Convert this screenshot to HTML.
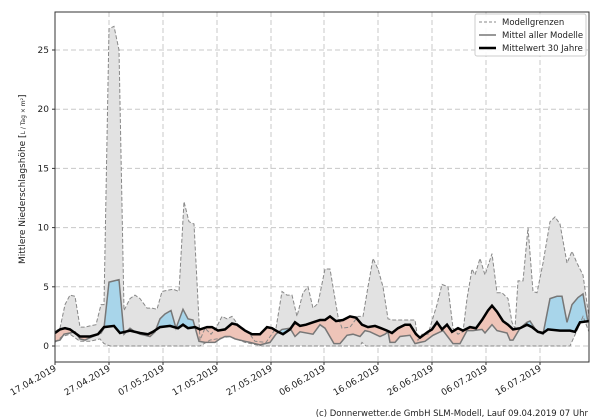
<!DOCTYPE html>
<html><head><meta charset="utf-8"><style>
body{margin:0;background:#fff;}
svg{display:block;font-family:"DejaVu Sans","Liberation Sans",sans-serif;}
</style></head><body>
<svg id="s" width="600" height="420" viewBox="0 0 600 420" xmlns="http://www.w3.org/2000/svg"></svg>
<script>
const Y=v=>346-v*11.84;
const up=[[55,1.2],[60,1.5],[65,3.5],[70,4.3],[75,4.2],[80,1.6],[85,1.6],[90,1.7],[96,1.8],[101,3.5],[104,3.5],[109,26.8],[114,27],[119,25],[124,3],[130,4],[135,4.3],[140,4],[147,3.2],[152,3.2],[157,3.1],[162,4.6],[167,4.7],[173,4.8],[179,4.6],[184,12.2],[189,10.5],[194,10.3],[200,0.5],[205,1.5],[211,1.0],[216,1.5],[222,2.5],[227,2.3],[232,2.5],[238,1.8],[243,1.5],[248,1.2],[255,0.4],[266,0.3],[276,1.5],[282,4.6],[287,4.3],[292,4.3],[297,2.5],[303,4.5],[308,5.0],[313,3.2],[318,3.6],[325,6.5],[330,6.5],[333,5],[338,2.5],[342,1.5],[350,1.6],[358,2.5],[363,2.5],[368,5],[373,7.4],[378,6.5],[383,5],[388,2.3],[393,2.2],[410,2.2],[415,2.2],[418,0.5],[422,1.0],[428,1.0],[437,3.5],[442,5.2],[448,5.0],[453,1.5],[458,1.0],[463,1.2],[467,4],[470,5.5],[472,6.5],[475,6.0],[480,7.4],[485,6],[492,7.8],[497,4.5],[502,4.5],[508,4],[512,2],[515,1.5],[518,5.5],[523,5.5],[528,10],[533,4.6],[537,4.5],[543,7],[550,10.5],[555,10.9],[560,10.3],[567,7],[572,8],[577,7],[583,6],[588,3],[589,2.4]];
const lo=[[55,0.3],[62,0.8],[70,1.0],[80,0.4],[90,0.4],[100,0.6],[104,0.2],[110,0],[200,0],[210,0.5],[230,0.8],[245,0.3],[262,0],[360,0],[362,0.3],[366,0],[560,0],[570,0],[578,1.5],[583,2.5],[589,1.2]];
const mn=[[55,0.4],[60,0.5],[64,1.0],[70,1.1],[75,1.2],[80,0.6],[85,0.5],[90,0.7],[96,0.9],[101,1.1],[104,1.5],[109,5.4],[114,5.5],[119,5.6],[124,1.0],[130,1.5],[135,1.2],[140,1.0],[145,0.9],[150,0.8],[155,1.2],[160,2.3],[165,2.7],[171,3.0],[176,1.5],[183,3.1],[188,2.3],[193,2.2],[199,0.4],[205,0.3],[215,0.3],[220,0.6],[225,0.8],[230,0.8],[235,0.6],[240,0.5],[245,0.4],[250,0.3],[260,0.1],[265,0.2],[270,0.3],[276,1.0],[282,1.4],[290,1.5],[295,0.8],[300,1.2],[313,1.0],[320,1.8],[325,1.5],[334,0.2],[340,0.2],[347,0.9],[353,1.0],[360,0.8],[365,1.3],[370,1.2],[380,0.8],[385,1.0],[388,1.2],[390,0.3],[395,0.3],[400,0.8],[410,0.9],[415,0.2],[420,0.3],[425,0.4],[433,0.9],[443,1.3],[453,0.2],[460,0.2],[467,1.3],[473,1.3],[482,1.4],[485,1.1],[492,1.8],[497,1.3],[507,1.1],[510,0.5],[513,0.5],[520,1.5],[527,2.0],[530,2.1],[537,1.2],[543,1.0],[550,4],[557,4.2],[562,4.2],[567,2.0],[572,3.5],[578,4.1],[583,4.4],[588,2.0]];
const cl=[[55,1.1],[60,1.4],[65,1.5],[70,1.4],[75,1.1],[80,0.8],[90,0.8],[98,1.0],[104,1.6],[114,1.7],[120,1.1],[125,1.2],[130,1.3],[140,1.1],[148,1.0],[153,1.2],[160,1.6],[170,1.7],[178,1.5],[183,1.8],[188,1.5],[195,1.6],[200,1.4],[207,1.6],[212,1.6],[218,1.3],[225,1.4],[232,1.9],[237,1.8],[245,1.3],[252,1.0],[260,1.0],[267,1.6],[272,1.5],[278,1.2],[283,1.0],[290,1.4],[295,2.0],[300,1.7],[306,1.8],[313,2.0],[320,2.2],[325,2.2],[330,2.5],[336,2.1],[343,2.2],[350,2.5],[356,2.4],[362,1.8],[368,1.6],[375,1.7],[381,1.5],[387,1.3],[392,1.1],[398,1.5],[405,1.8],[410,1.8],[416,1.0],[420,0.7],[428,1.2],[432,1.4],[437,2.0],[442,1.4],[447,1.8],[452,1.2],[458,1.5],[463,1.3],[470,1.6],[476,1.5],[482,2.2],[488,3.0],[492,3.4],[497,2.9],[503,2.1],[508,1.8],[513,1.4],[520,1.5],[527,1.8],[532,1.6],[538,1.2],[543,1.1],[548,1.4],[560,1.3],[570,1.3],[575,1.2],[580,2.0],[589,2.1]];
const pts=a=>a.map(p=>p[0]+','+Y(p[1]).toFixed(1)).join(' ');
const rev=a=>a.slice().reverse();
let h='';
h+='<defs><clipPath id="ax"><rect x="55" y="12" width="534" height="350"/></clipPath>';
h+='<clipPath id="belowMean"><polygon points="'+pts(mn)+' 589,400 55,400"/></clipPath>';
h+='<clipPath id="aboveMean"><polygon points="'+pts(mn)+' 589,0 55,0"/></clipPath></defs>';
let g='';
for(let v=0;v<=25;v+=5){g+='<line x1="55" x2="589" y1="'+Y(v)+'" y2="'+Y(v)+'"/>';}
const xt=[55,109,163,217,271,324,378,432,486,540];
xt.forEach(x=>g+='<line x1="'+x+'" x2="'+x+'" y1="12" y2="362"/>');
h+='<g stroke="#c8c8c8" stroke-width="1" stroke-dasharray="5,3">'+g+'</g>';
h+='<g clip-path="url(#ax)">';
h+='<polygon points="'+pts(up)+' '+pts(rev(lo))+'" fill="#e2e2e2"/>';
h+='<polygon clip-path="url(#belowMean)" points="'+pts(cl)+' 589,0 55,0" fill="#a8d5ea"/>';
h+='<polygon clip-path="url(#aboveMean)" points="'+pts(cl)+' 589,400 55,400" fill="#eec4b8"/>';
h+='<polyline points="'+pts(up)+'" fill="none" stroke="#888" stroke-width="1" stroke-dasharray="4,2"/>';
h+='<polyline points="'+pts(lo)+'" fill="none" stroke="#888" stroke-width="1" stroke-dasharray="4,2"/>';
h+='<polyline points="'+pts(mn)+'" fill="none" stroke="#777" stroke-width="1.5"/>';
h+='<polyline points="'+pts(cl)+'" fill="none" stroke="#000" stroke-width="2.5"/>';
h+='</g>';
h+='<rect x="55" y="12" width="534" height="350" fill="none" stroke="#333" stroke-width="1"/>';
for(let v=0;v<=25;v+=5){h+='<line x1="52" x2="55" y1="'+Y(v)+'" y2="'+Y(v)+'" stroke="#333"/><text x="49" y="'+(Y(v)+3)+'" font-size="9" text-anchor="end" fill="#222">'+v+'</text>';}
const lab=['17.04.2019','27.04.2019','07.05.2019','17.05.2019','27.05.2019','06.06.2019','16.06.2019','26.06.2019','06.07.2019','16.07.2019'];
xt.forEach((x,i)=>{h+='<line x1="'+x+'" x2="'+x+'" y1="362" y2="365" stroke="#333"/><text transform="translate('+(x+2)+',370) rotate(-30)" font-size="9" text-anchor="end" fill="#222">'+lab[i]+'</text>';});
h+='<text transform="translate(25,264) rotate(-90)" font-size="9" fill="#222">Mittlere Niederschlagshöhe [<tspan font-size="6">L / Tag × m²</tspan>]</text>';
h+='<rect x="475" y="14" width="111" height="42" fill="#fff" fill-opacity="0.9" stroke="#ccc" rx="2"/>';
h+='<line x1="479" x2="496" y1="22" y2="22" stroke="#888" stroke-dasharray="3,2"/><text x="502" y="25" font-size="8.5" fill="#222">Modellgrenzen</text>';
h+='<line x1="479" x2="496" y1="35" y2="35" stroke="#777" stroke-width="1.5"/><text x="502" y="38" font-size="8.5" fill="#222">Mittel aller Modelle</text>';
h+='<line x1="479" x2="496" y1="48" y2="48" stroke="#000" stroke-width="2.5"/><text x="502" y="51" font-size="8.5" fill="#222">Mittelwert 30 Jahre</text>';
h+='<text x="588" y="416" font-size="8.5" text-anchor="end" fill="#222">(c) Donnerwetter.de GmbH SLM-Modell, Lauf 09.04.2019 07 Uhr</text>';
document.getElementById('s').innerHTML=h;
</script>
</body></html>
